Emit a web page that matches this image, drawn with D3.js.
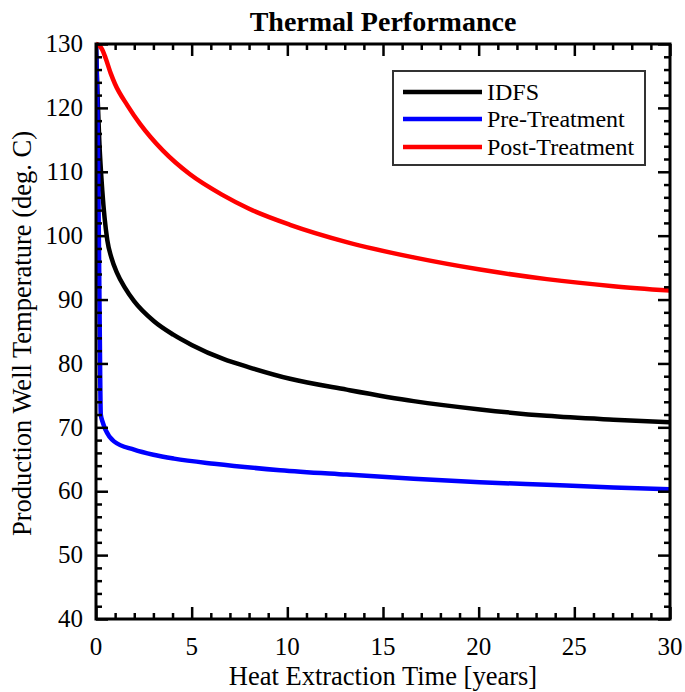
<!DOCTYPE html>
<html><head><meta charset="utf-8">
<script src="https://cdn.jsdelivr.net/npm/d3@7"></script>
<style>body{margin:0;background:#fff}svg{display:block}text{font-family:"Liberation Serif","Times New Roman",serif}</style>
</head><body>
<script>
const title = "Thermal Performance";
const xLabel = "Heat Extraction Time [years]";
const yLabel = "Production Well Temperature (deg. C)";
const xTicks = [0,5,10,15,20,25,30];
const yTicks = [40,50,60,70,80,90,100,110,120,130];
const seriesNames = ["IDFS","Pre-Treatment","Post-Treatment"];
const seriesColors = ["#000000","#0000ff","#ff0000"];

const idfsT = [0,0.08,0.17,0.33,0.59,0.8,1.11,1.5,1.99,3.03,4.04,5,6.65,8,10.14,13.1,16.6,20.07,23.56,27.04,30];
const idfsV = [130,122,115,107,99.3,96.6,94.1,91.9,89.75,86.6,84.5,82.9,80.7,79.4,77.6,75.9,74.1,72.8,71.8,71.2,70.8];
const preT = [0,0.1,0.19,0.25,0.35,0.5,0.94,1.99,3,4.08,6.17,9.62,13.1,16.6,20.07,23.56,27.04,30];
const preV = [130,115,87,72,70.8,69.6,67.8,66.5,65.7,65.1,64.3,63.3,62.6,61.95,61.4,61.0,60.6,60.3];
const postT = [0,0.15,0.33,0.5,0.77,1.0,1.64,2.3,2.86,3.5,4.91,6.65,8,10.14,13.1,16.6,20.07,23.56,27.04,30];
const postV = [130,129.8,129.1,127.8,125.4,123.7,120.4,117.5,115.4,113.3,109.6,106.3,104.2,101.7,99.0,96.6,94.7,93.2,92.1,91.4];

const W=685,H=692;
const m={l:96,r:15,t:44,b:73};
const svg=d3.select("body").append("svg").attr("width",W).attr("height",H);
const x=d3.scaleLinear().domain([0,30]).range([m.l,W-m.r]);
const y=d3.scaleLinear().domain([40,130]).range([H-m.b,m.t]);

const series=[[idfsT,idfsV],[preT,preV],[postT,postV]].map(([t,v],i)=>({name:seriesNames[i],color:seriesColors[i],pts:t.map((d,j)=>[d,v[j]])}));

svg.append("defs").append("clipPath").attr("id","c").append("rect")
  .attr("x",m.l).attr("y",m.t-3).attr("width",W-m.r-m.l).attr("height",H-m.b-m.t+3);

const line=d3.line().x(d=>x(d[0])).y(d=>y(d[1])).curve(d3.curveMonotoneX);
const g=svg.append("g").attr("clip-path","url(#c)");
series.forEach(s=>{
  g.append("path").attr("d",line(s.pts)).attr("fill","none").attr("stroke",s.color).attr("stroke-width",4.5).attr("stroke-linejoin","round");
});

const minorX=d3.range(0,31,1).filter(v=>v%5!==0);
const minorY=d3.range(40,131,2).filter(v=>v%10!==0);
const tickW=2.5;
function ticks(axisGen, tr, len){
  const a=svg.append("g").attr("transform",tr).call(axisGen.tickSize(len).tickSizeOuter(0));
  a.select(".domain").remove();
  a.selectAll("text").remove();
  a.selectAll("line").attr("stroke","#000").attr("stroke-width",tickW);
  return a;
}
ticks(d3.axisTop(x).tickValues(xTicks),`translate(0,${H-m.b})`,12);
ticks(d3.axisTop(x).tickValues(minorX),`translate(0,${H-m.b})`,6);
ticks(d3.axisBottom(x).tickValues(xTicks),`translate(0,${m.t})`,12);
ticks(d3.axisBottom(x).tickValues(minorX),`translate(0,${m.t})`,6);
ticks(d3.axisRight(y).tickValues(yTicks),`translate(${m.l},0)`,12);
ticks(d3.axisRight(y).tickValues(minorY),`translate(${m.l},0)`,6);
ticks(d3.axisLeft(y).tickValues(yTicks),`translate(${W-m.r},0)`,12);
ticks(d3.axisLeft(y).tickValues(minorY),`translate(${W-m.r},0)`,6);

svg.append("g").selectAll("text").data(xTicks).join("text")
  .attr("x",d=>x(d)).attr("y",H-m.b+36).attr("text-anchor","middle")
  .attr("font-size",25).text(d=>d);
svg.append("g").selectAll("text").data(yTicks).join("text")
  .attr("x",m.l-13).attr("y",d=>y(d)).attr("dy","0.33em").attr("text-anchor","end")
  .attr("font-size",25).text(d=>d);

svg.append("rect").attr("x",m.l).attr("y",m.t).attr("width",W-m.r-m.l).attr("height",H-m.b-m.t)
  .attr("fill","none").attr("stroke","#000").attr("stroke-width",3);

svg.append("text").attr("x",383).attr("y",31).attr("text-anchor","middle")
  .attr("font-size",28).attr("font-weight","bold").text(title);
svg.append("text").attr("x",383).attr("y",685).attr("text-anchor","middle")
  .attr("font-size",26.5).text(xLabel);
svg.append("text").attr("transform",`translate(31,${(m.t+H-m.b)/2+2}) rotate(-90)`).attr("text-anchor","middle")
  .attr("font-size",26.5).text(yLabel);

const lg=svg.append("g");
lg.append("rect").attr("x",393).attr("y",71).attr("width",252).attr("height",94)
  .attr("fill","#fff").attr("stroke","#333").attr("stroke-width",2);
const rowsY=[92,119,147];
series.forEach((s,i)=>{
  lg.append("line").attr("x1",403).attr("x2",482).attr("y1",rowsY[i]).attr("y2",rowsY[i])
    .attr("stroke",s.color).attr("stroke-width",4.5);
  lg.append("text").attr("x",487).attr("y",rowsY[i]).attr("dy","0.33em").attr("font-size",24).text(s.name);
});
</script>
</body></html>
